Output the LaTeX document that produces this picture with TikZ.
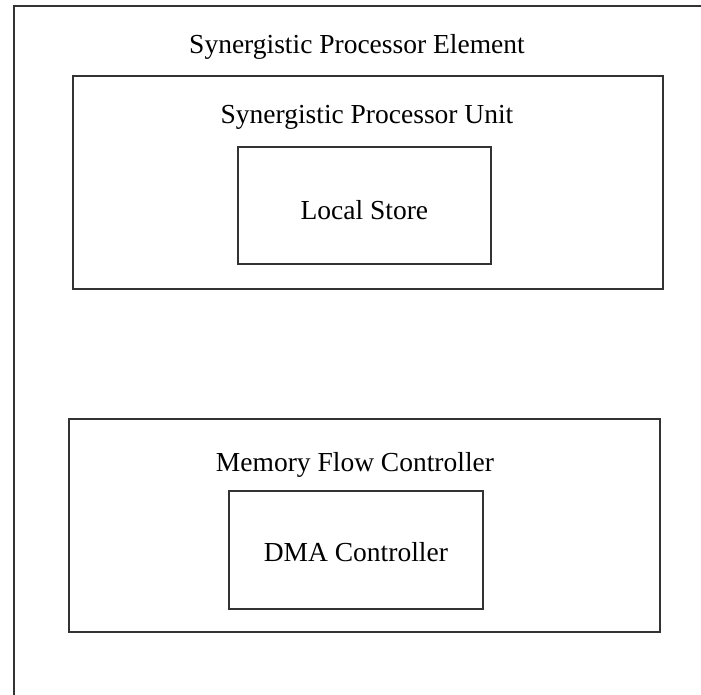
\documentclass[tikz,border=0pt]{standalone}
\usepackage{fontspec}
\setmainfont{Liberation Serif}
\usepackage{tikz}
\usetikzlibrary{positioning}
\tikzset{
	box/.style={draw=black!80, line width=1.8pt, anchor=north west, inner sep=0pt},
	title/.style={font=\fontsize{27.5}{32}\selectfont, inner sep=0pt}
}

\begin{document}
\begin{tikzpicture}[x=1pt,y=-1pt]
	\useasboundingbox (0,0) rectangle (701,695);
	\clip (0,0) rectangle (701,695);

	\node[box, minimum width=720pt, minimum height=720pt] (spe) at (13,5) {};
	\node[title] (spetitle) at (357,47) {Synergistic Processor Element};

	\node[box, minimum width=590pt, minimum height=213pt] (spu) at (72,75) {};
	\node[title] (sputitle) at (367,117) {Synergistic Processor Unit};
	\node[box, minimum width=253pt, minimum height=117pt] (ls) at (237,146) {};
	\node[title, yshift=-5pt] (lstext) at (ls.center) {Local Store};

	\node[box, minimum width=591pt, minimum height=213pt] (mfc) at (68,418) {};
	\node[title] (mfctitle) at (355,465) {Memory Flow Controller};
	\node[box, minimum width=254pt, minimum height=118pt] (dma) at (228,490) {};
	\node[title, yshift=-2pt] (dmatext) at (dma.center) {DMA Controller};
\end{tikzpicture}
\end{document}
